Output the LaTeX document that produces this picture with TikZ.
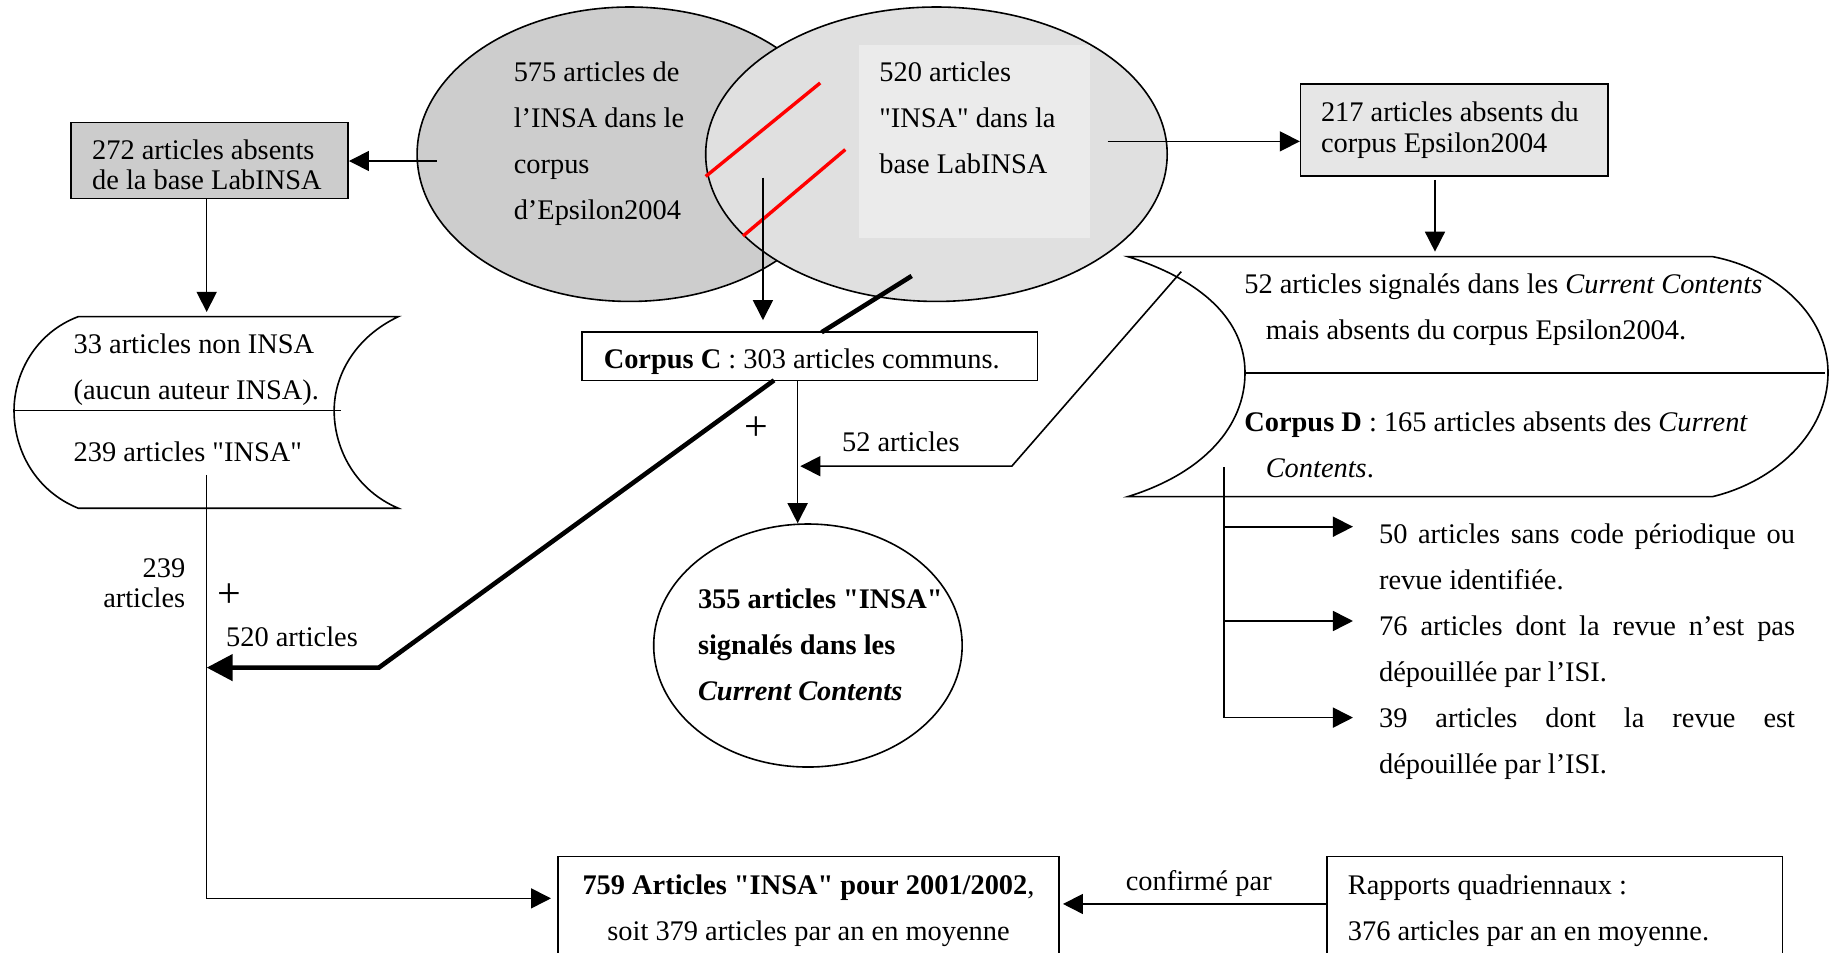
\documentclass[tikz,border=0pt]{standalone}
\usepackage{fontspec}
\setmainfont{Liberation Serif}[Ligatures=TeXOff]
\usetikzlibrary{arrows.meta,shapes.geometric,fit}
\def\pxu{0.58418pt}
\definecolor{ellLc}{RGB}{205,205,205}
\definecolor{ellRc}{RGB}{224,224,224}
\definecolor{innerc}{RGB}{235,235,235}
\definecolor{boxAc}{RGB}{204,204,204}
\definecolor{boxBc}{RGB}{230,230,230}
\newcommand\fdbl{\fontsize{14.2pt}{23pt}\selectfont}
\newcommand\fsgl{\fontsize{14.2pt}{15.2pt}\selectfont}
\newcommand\fplus{\fontsize{21pt}{24pt}\selectfont}
\begin{document}
\begin{tikzpicture}[x=\pxu, y=-\pxu,
  thin/.style={line width=0.8pt},
  arr/.style={line width=0.8pt, -{Triangle[length=10pt,width=10pt]}},
  thickarr/.style={line width=2.3pt, -{Triangle[length=13pt,width=13pt]}},
  thickline/.style={line width=2.3pt},
  redline/.style={red, line width=1.7pt},
  txt/.style={inner sep=0pt, anchor=north west, align=left, font=\fdbl},
  lbl/.style={inner sep=0pt, font=\fdbl},
  ell/.style={ellipse, draw, line width=0.8pt, inner sep=0pt},
  box/.style={draw, line width=0.8pt, inner sep=0pt}]
\useasboundingbox (0,0) rectangle (1568,815);
\clip (0,0) rectangle (1568,815);
\fill[white] (0,0) rectangle (1568,815);

% Venn diagram
\node[ell, fill=ellLc, minimum width=364*\pxu, minimum height=252*\pxu] (eL) at (539,132) {};
\node[ell, fill=ellRc, minimum width=395*\pxu, minimum height=252*\pxu] (eR) at (801.5,132) {};
\node[fit={(735,38.5) (933,203.5)}, inner sep=0pt, fill=innerc] (inR) {};
\node[txt] (tL) at (439.4,52.8) {575 articles de\\l’INSA dans le\\corpus\\d’Epsilon2004};
\node[txt] (tR) at (752.3,52.8) {520 articles\\"INSA" dans la\\base LabINSA};
\draw[redline] (604,151) -- (702,71);
\draw[redline] (636,202) -- (723.5,128);

% left boxes
\node[box, fill=boxAc, fit={(61,105) (298,170)}] (b272) {};
\node[txt, font=\fsgl] (t272) at (78.5,119.1) {272 articles absents\\de la base LabINSA};

\draw[thin] (67,271) -- (341,271)
  .. controls (305,288) and (286,320) .. (286,351.5)
  .. controls (286,385) and (305,420) .. (341,435)
  -- (67,435)
  .. controls (30,420) and (12,385) .. (12,351.5)
  .. controls (12,320) and (30,285) .. (67,271) -- cycle;
\draw[thin] (12,351.5) -- (292,351.5);
\node[txt] (tA) at (62.7,285.2) {33 articles non INSA\\(aucun auteur INSA).};
\node[txt] (tB) at (62.7,378.1) {239 articles "INSA"};

% right boxes
\node[box, fill=boxBc, fit={(1113.2,71.9) (1376.5,150.6)}] (b217) {};
\node[txt, font=\fsgl] (t217) at (1130.3,87.1) {217 articles absents du\\corpus Epsilon2004};

\draw[thin] (965.5,219.7) -- (1466,219.7)
  .. controls (1520,230) and (1564.6,270) .. (1564.6,319)
  .. controls (1564.6,370) and (1520,412) .. (1466,425)
  -- (965.5,425)
  .. controls (1030,405) and (1065.6,365) .. (1065.6,319)
  .. controls (1065.6,275) and (1030,240) .. (965.5,219.7) -- cycle;
\draw[thin] (1065.6,319) -- (1562,319);
\node[txt] (tD1) at (1064.7,234) {52 articles signalés dans les \textit{Current Contents}\\\hspace*{10.7pt}mais absents du corpus Epsilon2004.};
\node[txt] (tD2) at (1064.7,352.4) {\textbf{Corpus D} : 165 articles absents des \textit{Current}\\\hspace*{10.7pt}\textit{Contents}.};

\node[txt] (tList) at (1180,448) {\makebox[208pt][s]{50 articles sans code périodique ou}\\revue identifiée.\\\makebox[208pt][s]{76 articles dont la revue n’est pas}\\dépouillée par l’ISI.\\\makebox[208pt][s]{39 articles dont la revue est}\\dépouillée par l’ISI.};

% centre
\node[box, fill=white, fit={(498,284.4) (888,325.5)}] (bC) {};
\node[txt] (tC) at (516.4,298.2) {\textbf{Corpus C} : 303 articles communs.};
\node[ell, fill=white, minimum width=264*\pxu, minimum height=208*\pxu] (e355) at (691.5,552.5) {};
\node[txt, font=\fdbl\bfseries] (t355) at (597.1,503.5) {355 articles "INSA"\\signalés dans les\\\textit{Current Contents}};

% bottom boxes
\node[box, fill=white, fit={(477.6,733.2) (906.4,840)}] (b759) {};
\node[txt, anchor=north, align=center] (t759) at (692,748.5) {\textbf{759 Articles "INSA" pour 2001/2002},\\soit 379 articles par an en moyenne};
\node[box, fill=white, fit={(1135.8,733.2) (1525.7,840)}] (bRap) {};
\node[txt] (tRap) at (1153.3,748.5) {Rapports quadriennaux :\\376 articles par an en moyenne.};

% labels
\node[lbl, font=\fplus] (plus1) at (647.6,366.6) {+};
\node[lbl, anchor=west] (l52) at (720.4,378) {52 articles};
\node[lbl, anchor=north east, align=right, font=\fsgl] (l239) at (158.9,477.9) {239\\articles};
\node[lbl, font=\fplus] (plus2) at (196.5,510) {+};
\node[lbl, anchor=west] (l520) at (193.2,545) {520 articles};
\node[lbl] (lconf) at (1026,756) {confirmé par};

% connectors
\coordinate (vA) at (653,152);
\coordinate (vB) at (653,274);
\draw[arr] (vA) -- (vB);

\coordinate (lA) at (373.7,137.8);
\draw[arr] (lA) -- (lA -| b272.east);

\coordinate (sLtop) at (176.9,267);
\draw[arr] (b272.south -| sLtop) -- (sLtop);

\coordinate (sLout) at (176.9,406.5);
\coordinate (botC) at (176.9,768.9);
\coordinate (in759) at (471.6,768.9);
\draw[arr] (sLout) -- (botC) -- (in759);

\coordinate (k1) at (780.3,236.2);
\coordinate (k2) at (703.2,284.4);
\draw[thickline] (k1) -- (k2);
\coordinate (k3) at (662.5,325.5);
\coordinate (k4) at (324.3,571.4);
\coordinate (k5) at (176.9,571.4);
\draw[thickarr] (k3) -- (k4) -- (k5);

\coordinate (cb) at (682.7,325.5);
\draw[arr] (cb) -- (cb |- e355.north);

\coordinate (d1) at (1011,232.5);
\coordinate (d2) at (866,399);
\coordinate (d3) at (685,399);
\draw[arr] (d1) -- (d2) -- (d3);

\coordinate (rA) at (948,121);
\draw[arr] (rA) -- (rA -| b217.west);

\coordinate (dS) at (1228.2,154);
\coordinate (dT) at (1228.2,215.4);
\draw[arr] (dS) -- (dT);

\coordinate (br0) at (1047.6,400);
\coordinate (br1) at (1047.6,450.8);
\coordinate (br2) at (1047.6,531.5);
\coordinate (a1) at (1158,450.8);
\coordinate (a2) at (1158,531.5);
\coordinate (a3) at (1158,614.2);
\draw[arr] (br0) |- (a3);
\draw[arr] (br1) -- (a1);
\draw[arr] (br2) -- (a2);

\coordinate (rp) at (909.8,773.7);
\draw[arr] (bRap.west |- rp) -- (rp);
\end{tikzpicture}
\end{document}
